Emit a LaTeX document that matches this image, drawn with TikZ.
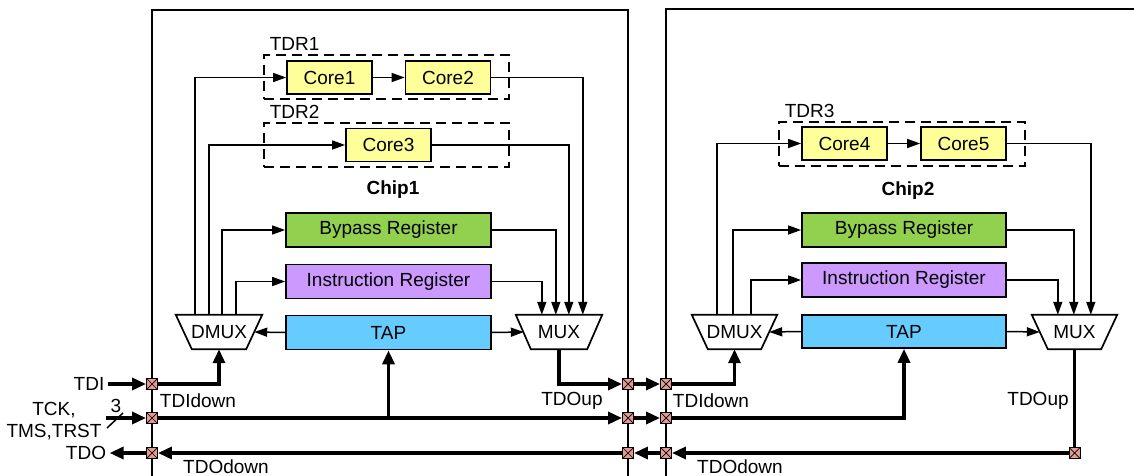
\documentclass[tikz,border=0pt]{standalone}
\usepackage{fontspec}
\setmainfont{Liberation Sans}
\usetikzlibrary{arrows.meta}

\definecolor{coreY}{HTML}{FFFF99}
\definecolor{bypassG}{HTML}{92D050}
\definecolor{instrP}{HTML}{CC99FF}
\definecolor{tapB}{HTML}{66CCFF}
\definecolor{portC}{HTML}{E39A95}

\newcommand{\diagfont}{\fontsize{19}{21.5}\selectfont}

\begin{document}
\begin{tikzpicture}[x=1pt,y=-1pt,
  every node/.style={font=\diagfont},
  blk/.style={draw, line width=1.7pt, inner sep=0pt},
  core/.style={blk, fill=coreY, minimum width=85pt, minimum height=33pt},
  reg/.style={blk, minimum width=205pt, minimum height=34pt},
  muxbox/.style={inner sep=0pt, minimum width=86pt, minimum height=34pt},
  tdr/.style={draw, dash pattern=on 10pt off 6pt, line width=1.4pt, inner sep=0pt,
              minimum width=245pt, minimum height=44pt},
  thin/.style={line width=1.5pt},
  tarrow/.style={thin, -{Triangle[length=13pt,width=9pt]}},
  bus/.style={line width=3.3pt},
  barrow/.style={bus, -{Triangle[length=14pt,width=12pt]}},
  port/.style={draw, fill=portC, line width=0.9pt, minimum size=11pt, inner sep=0pt,
    path picture={\draw[line width=0.7pt]
      (path picture bounding box.north west) -- (path picture bounding box.south east)
      (path picture bounding box.north east) -- (path picture bounding box.south west);}},
  chip/.style={line width=2.2pt}
]
\useasboundingbox (0,0) rectangle (1134,476);
\clip (0,0) rectangle (1134,476);

% chip outlines
\draw[chip] (152,600) -- (152,10) -- (628,10) -- (628,600);
\draw[chip] (666,600) -- (666,9) -- (1200,9);

% ---------------- Chip1 ----------------
\node[tdr] (tdr1) at (386.5,77) {};
\node[anchor=south west, xshift=3pt] (tdr1lbl) at (tdr1.north west) {TDR1};
\node[tdr] (tdr2) at (386.5,145) {};
\node[anchor=south west, xshift=3pt] (tdr2lbl) at (tdr2.north west) {TDR2};

\node[core] (c1) at (329.5,77.5) {Core1};
\node[core] (c2) at (448,77.5) {Core2};
\node[core] (c3) at (388.5,145) {Core3};
\node[font=\diagfont\bfseries] (chip1) at (393,190) {Chip1};
\node[reg, fill=bypassG] (bp1) at (388.5,230) {Bypass Register};
\node[reg, fill=instrP] (ir1) at (388.5,281.5) {Instruction Register};
\node[reg, fill=tapB] (tap1) at (388.5,332.5) {TAP};

\node[muxbox] (d1) at (219,332) {};
\draw[blk, fill=white] (d1.north west) -- (d1.north east) -- ([xshift=-16pt]d1.south east)
  -- ([xshift=16pt]d1.south west) -- cycle;
\node (d1t) at (d1.center) {DMUX};
\node[muxbox] (m1) at (559,332) {};
\draw[blk, fill=white] (m1.north west) -- (m1.north east) -- ([xshift=-15pt]m1.south east)
  -- ([xshift=15pt]m1.south west) -- cycle;
\node (m1t) at (m1.center) {MUX};

\draw[tarrow] (c1.east) -- (c2.west);
\draw[tarrow] ([xshift=19pt]d1.north west) |- (c1.west);
\draw[tarrow] ([xshift=33pt]d1.north west) |- (c3.west);
\draw[tarrow] ([xshift=46pt]d1.north west) |- (bp1.west);
\draw[tarrow] ([xshift=60pt]d1.north west) |- (ir1.west);
\draw[tarrow] (c2.east) -| ([xshift=67pt]m1.north west);
\draw[tarrow] (c3.east) -| ([xshift=53pt]m1.north west);
\draw[tarrow] (bp1.east) -| ([xshift=40pt]m1.north west);
\draw[tarrow] (ir1.east) -| ([xshift=26pt]m1.north west);
\draw[tarrow] (tap1.west) -- ([xshift=-8pt]d1.east);
\draw[tarrow] (tap1.east) -- ([xshift=8pt]m1.west);

% ---------------- Chip2 ----------------
\node[tdr, minimum width=246pt] (tdr3) at (902,144) {};
\node[anchor=south west, xshift=3pt] (tdr3lbl) at (tdr3.north west) {TDR3};

\node[core] (c4) at (844.5,143.5) {Core4};
\node[core] (c5) at (963.5,143.5) {Core5};
\node[font=\diagfont\bfseries] (chip2) at (908,191) {Chip2};
\node[reg, minimum width=204pt, fill=bypassG] (bp2) at (904,230) {Bypass Register};
\node[reg, minimum width=204pt, fill=instrP] (ir2) at (904,280) {Instruction Register};
\node[reg, minimum width=204pt, minimum height=33pt, fill=tapB] (tap2) at (904,331.5) {TAP};

\node[muxbox, minimum width=85pt] (d2) at (734.5,332) {};
\draw[blk, fill=white] (d2.north west) -- (d2.north east) -- ([xshift=-16pt]d2.south east)
  -- ([xshift=16pt]d2.south west) -- cycle;
\node (d2t) at (d2.center) {DMUX};
\node[muxbox, minimum width=85pt] (m2) at (1074.5,332) {};
\draw[blk, fill=white] (m2.north west) -- (m2.north east) -- ([xshift=-16pt]m2.south east)
  -- ([xshift=16pt]m2.south west) -- cycle;
\node (m2t) at (m2.center) {MUX};

\draw[tarrow] (c4.east) -- (c5.west);
\draw[tarrow] ([xshift=25pt]d2.north west) |- (c4.west);
\draw[tarrow] ([xshift=41pt]d2.north west) |- (bp2.west);
\draw[tarrow] ([xshift=59pt]d2.north west) |- (ir2.west);
\draw[tarrow] (c5.east) -| ([xshift=59pt]m2.north west);
\draw[tarrow] (bp2.east) -| ([xshift=42pt]m2.north west);
\draw[tarrow] (ir2.east) -| ([xshift=26pt]m2.north west);
\draw[tarrow] (tap2.west) -- ([xshift=-8pt]d2.east);
\draw[tarrow] (tap2.east) -- ([xshift=8pt]m2.west);

% ---------------- boundary ports ----------------
\node[port] (p1a) at (152,384) {};
\node[port] (p1b) at (152,418) {};
\node[port] (p1c) at (152,453) {};
\node[port] (q1a) at (628,384) {};
\node[port] (q1b) at (628,418) {};
\node[port] (q1c) at (628,453) {};
\node[port] (p2a) at (666,384) {};
\node[port] (p2b) at (666,418) {};
\node[port] (p2c) at (666,453) {};
\node[port] (q2c) at (1074.5,453) {};

% external pins
\node (tdi) at (89,384) {TDI};
\node[align=center] (tck) at (54,421) {TCK,\\TMS,TRST};
\node (tdo) at (86,453) {TDO};
\coordinate (tckin) at (106,418);
\draw[thin] (107,428) -- (123,413);
\node (bw) at (116,406) {3};

% serial scan path and control buses
\draw[barrow] (tdi.east) -- (p1a.west);
\draw[barrow] (tckin) -- (p1b.west);
\draw[barrow] (p1c.west) -- (tdo.east);

\draw[barrow] (p1a.east) -| (d1.south);
\draw[barrow] (p1b.east) -- (q1b.west);
\draw[barrow] (p1b -| tap1.south) -- (tap1.south);
\draw[barrow] (q1c.west) -- (p1c.east);
\draw[barrow] (m1.south) |- (q1a.west);

\draw[barrow] (q1a.east) -- (p2a.west);
\draw[barrow] (q1b.east) -- (p2b.west);
\draw[barrow] (p2c.west) -- (q1c.east);

\draw[barrow] (p2a.east) -| (d2.south);
\draw[barrow] (p2b.east) -| (tap2.south);
\draw[bus] (m2.south) -- (q2c.north);
\draw[barrow] (q2c.west) -- (p2c.east);

% signal labels
\node (l1) at (198,401) {TDIdown};
\node (l2) at (226,467) {TDOdown};
\node (l3) at (572,401) {TDOup};
\node (l4) at (711,401) {TDIdown};
\node (l5) at (740,467) {TDOdown};
\node (l6) at (1038,401) {TDOup};
\end{tikzpicture}
\end{document}
